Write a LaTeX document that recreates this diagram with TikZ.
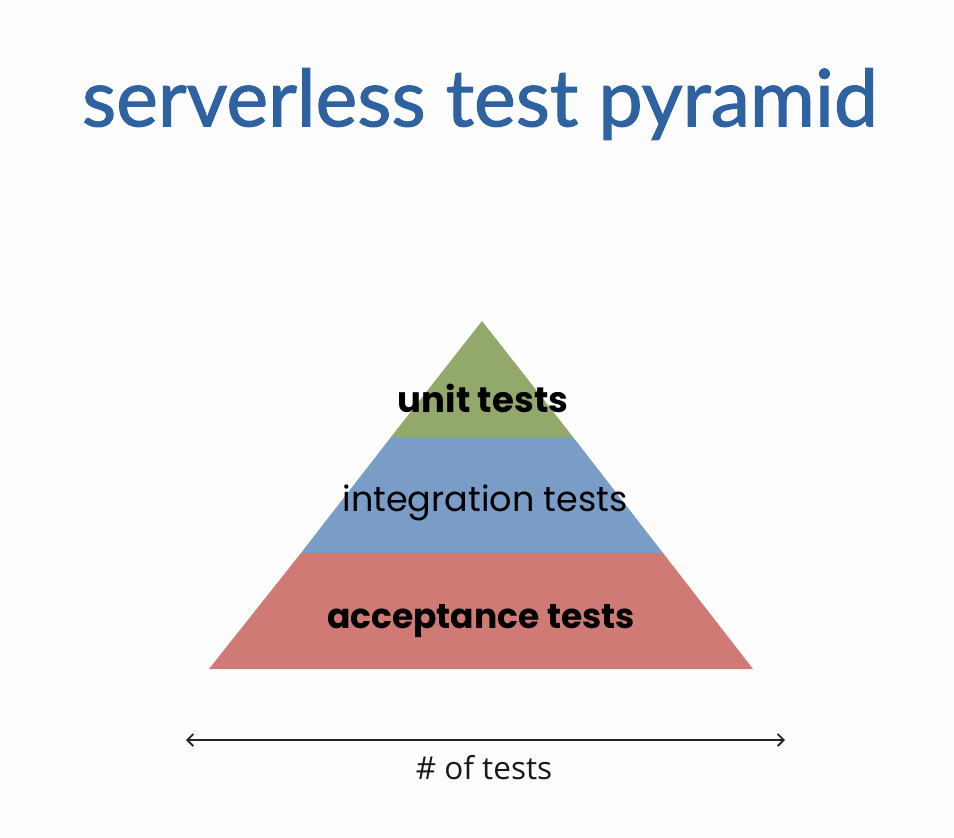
\documentclass[tikz,border=0pt]{standalone}
\usepackage{fontspec}
\setmainfont{Lato}
\newfontfamily\titlefont{Lato}[FakeBold=1.4]
\newfontfamily\labelfont{Poppins}
\newfontfamily\axisfont{Open Sans}
\usetikzlibrary{arrows.meta}
\definecolor{titleblue}{HTML}{2F62A0}
\definecolor{layergreen}{HTML}{93A96B}
\definecolor{layerblue}{HTML}{7A9DC7}
\definecolor{layerred}{HTML}{CF7A74}
\definecolor{paper}{HTML}{FDFDFD}
\tikzset{
  layer/.style={draw=none},
  lbl/.style={inner sep=0pt, text=black},
  axis/.style={draw=black!85, line width=1.8pt, {Straight Barb[length=6pt,width=12pt]}-{Straight Barb[length=6pt,width=12pt]}}
}
\begin{document}
\begin{tikzpicture}[x=1pt,y=-1pt]
  \fill[paper] (0,0) rectangle (954,838);
  \useasboundingbox (0,0) rectangle (954,838);

  % title
  \node[inner sep=0pt, text=titleblue, font=\titlefont\fontsize{79}{86}\selectfont] (title) at (480,104) {serverless test pyramid};

  % pyramid layers (apex 482,321; base 209..753 at 669)
  \fill[layer, layergreen] (482,321) -- (573,437) -- (391,437) -- cycle;
  \fill[layer, layerblue] (391,437) -- (573,437) -- (663,553) -- (301,553) -- cycle;
  \fill[layer, layerred] (301,553) -- (663,553) -- (753,669) -- (209,669) -- cycle;

  \node[lbl, font=\labelfont\bfseries\fontsize{35.5}{40}\selectfont] (unit) at (483,398) {unit tests};
  \node[lbl, font=\labelfont\fontsize{35}{40}\selectfont] (integ) at (485,503) {integration tests};
  \node[lbl, font=\labelfont\bfseries\fontsize{34.5}{40}\selectfont] (accept) at (481,621) {acceptance tests};

  % axis
  \coordinate (axl) at (186,740);
  \coordinate (axr) at (785,740);
  \draw[axis] (axl) -- (axr);
  \node[lbl, text=black!90, font=\axisfont\fontsize{31.5}{36}\selectfont] (count) at (484,768) {\# of tests};
\end{tikzpicture}
\end{document}
